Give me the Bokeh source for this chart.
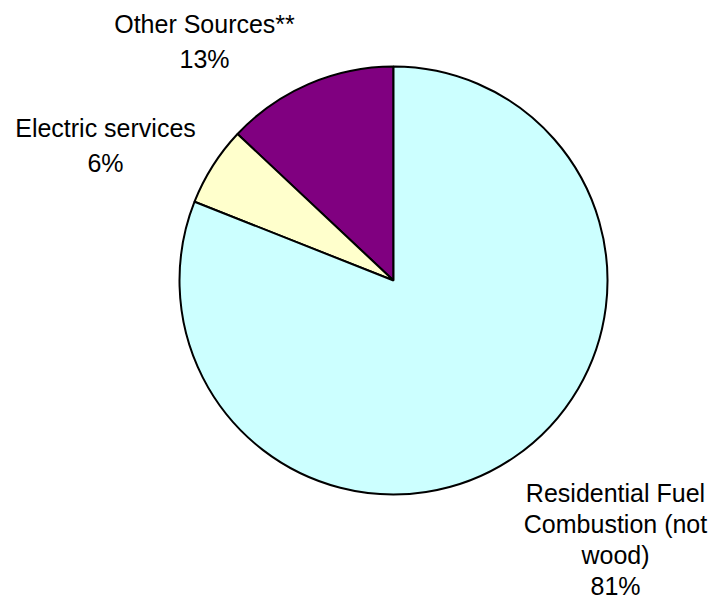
import numpy as np
from bokeh.plotting import figure
from bokeh.models import ColumnDataSource, Range1d
from bokeh.core.properties import value
from bokeh.embed import file_html
from bokeh.resources import INLINE

# data (counter-clockwise from 12 o'clock)
categories = ["Other Sources**", "Electric services", "Residential Fuel Combustion (not wood)"]
shares = [13, 6, 81]
colors = ["#800080", "#FFFFCC", "#CCFFFF"]
label_name_lines = [["Other Sources**"], ["Electric services"],
                    ["Residential Fuel", "Combustion (not", "wood)"]]

W, H = 715, 598
p = figure(width=W, height=H, output_backend="svg", toolbar_location=None,
           x_range=Range1d(0, W), y_range=Range1d(0, H), min_border=0)
p.axis.visible = False
p.grid.visible = False
p.outline_line_color = None
p.background_fill_color = "white"
p.border_fill_color = "white"

cx, cy, R = 393, H - 280, 214
frac = np.array(shares, dtype=float) / sum(shares)
cum = np.concatenate([[0], np.cumsum(frac)])
start = np.pi / 2 + 2 * np.pi * cum[:-1]
end = np.pi / 2 + 2 * np.pi * cum[1:]
src = ColumnDataSource(dict(start=start, end=end, color=colors, cat=categories))
p.wedge(x=cx, y=cy, radius=R, start_angle="start", end_angle="end", direction="anticlock",
        fill_color="color", line_color="black", line_width=2, source=src)

# label layout (pixel positions of first line centre and line step)
label_pos = [(204, 23, 35), (105, 127, 35), (615, 492, 31)]
xs, ys, ts = [], [], []
for names, share, (lx, ly, step) in zip(label_name_lines, shares, label_pos):
    lines = names + [f"{share}%"]
    for i, t in enumerate(lines):
        xs.append(lx)
        ys.append(H - (ly + i * step))
        ts.append(t)
p.text(x=xs, y=ys, text=ts, text_align="center", text_baseline="middle",
       text_font=value("Liberation Sans"), text_font_size="25px", text_color="black")

open("out.html", "w").write(file_html(p, INLINE))
